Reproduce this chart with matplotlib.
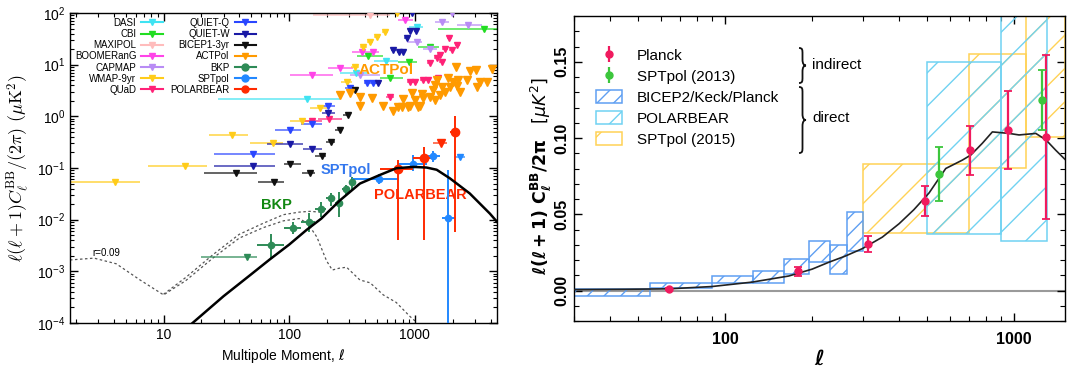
import numpy as np
import matplotlib
matplotlib.use("Agg")
import matplotlib.pyplot as plt
from matplotlib.lines import Line2D
from matplotlib.patches import Patch, Rectangle, PathPatch
from matplotlib.path import Path
from matplotlib.ticker import LogLocator, NullFormatter, MultipleLocator

plt.rcParams['font.family'] = ['Liberation Sans', 'DejaVu Sans']
plt.rcParams['hatch.linewidth'] = 1.0

W, H = 1067, 371

# ------------------------------------------------------------------ left panel data
lens_ell = [17, 30, 49, 70, 100, 137, 180, 253, 365, 524, 712, 970, 1240, 1490, 1900, 2730, 3950, 4500]
lens_dl = [1.0e-4, 3.3e-4, 8.5e-4, 1.7e-3, 3.3e-3, 6.3e-3, 1.05e-2, 2.36e-2, 5.0e-2, 7.3e-2, 9.9e-2,
           1.05e-1, 1.02e-1, 9.25e-2, 6.3e-2, 3.22e-2, 1.31e-2, 9.1e-3]

tens_ell = [1.8, 2.8, 4.2, 6.5, 10, 15, 25, 40, 62, 90, 120, 140, 166, 198, 220, 250, 286, 365, 440, 560, 710, 910, 1000]
tens_dl = [1.66e-3, 1.8e-3, 1.4e-3, 6.8e-4, 3.5e-4, 6.6e-4, 1.85e-3, 4.4e-3, 7.0e-3, 9.5e-3, 1.05e-2, 8.5e-3,
           4.6e-3, 1.6e-3, 1.06e-3, 1.15e-3, 1.2e-3, 6.8e-4, 6.0e-4, 3.5e-4, 2.5e-4, 1.35e-4, 1.1e-4]

tot_ell = [10, 15, 25, 40, 62, 90, 120, 146, 175]
tot_dl = [3.6e-4, 7.6e-4, 2.15e-3, 5.2e-3, 8.5e-3, 1.25e-2, 1.4e-2, 1.45e-2, 1.4e-2]

# upper limits: centre, value, bin low, bin high
dasi_ell = [138, 340, 590, 1030]
dasi_val = [2.17, 7.0, 11.8, 53]
dasi_lo = [27, 253, 470, 900]
dasi_hi = [253, 412, 740, 1150]

cbi_ell = [425, 632, 902, 1315, 3530]
cbi_val = [14.7, 5.4, 11.4, 22.3, 50]
cbi_lo = [344, 527, 734, 1055, 1523]
cbi_hi = [556, 807, 1030, 1560, 5000]

maxipol_ell = [438]
maxipol_val = [91]
maxipol_lo = [155]
maxipol_hi = [632]

boom_ell = [151, 253, 377, 466, 832]
boom_val = [6.2, 8.5, 17.8, 17.8, 73]
boom_lo = [101, 204, 313, 414, 731]
boom_hi = [222, 320, 414, 520, 964]

capmap_ell = [365, 1030, 1316, 1630, 1960, 2655]
capmap_val = [6.2, 27.9, 20, 68, 98, 58.6]
capmap_lo = [304, 863, 1150, 1434, 1800, 2170]
capmap_hi = [527, 1145, 1500, 1860, 2150, 3420]

wmap_ell = [4.1, 14.8, 35.3, 74.6, 126, 176, 286, 333, 388, 439, 495, 577, 714]
wmap_val = [0.054, 0.11, 0.435, 0.30, 0.82, 1.43, 4.68, 9.1, 22.3, 27.9, 34.7, 43.5, 99]
wmap_lo = [1.8, 7.5, 23, 49, 101, 146, 260, 310, 365, 415, 470, 545, 690]
wmap_hi = [6.5, 22, 47, 89, 154, 203, 315, 360, 415, 465, 525, 610, 745]

quad_ell = [151, 208, 633, 913, 1000, 1164, 1270, 1530, 1316, 1488, 1630, 1581, 1734, 1960, 1876, 2170]
quad_val = [0.80, 0.88, 2.4, 4.68, 4.68, 5.05, 5.05, 5.45, 10.6, 13.3, 11.4, 15.4, 19.8, 19.2, 32.4, 24]
quad_lo = [125, 170, 590, 860, 950, 1100, 1210, 1450, 1250, 1420, 1560, 1500, 1650, 1870, 1790, 2070]
quad_hi = [181, 261, 680, 960, 1050, 1220, 1330, 1610, 1380, 1560, 1700, 1660, 1820, 2050, 1960, 2270]

quietq_ell = [51, 101, 151, 204, 304, 413, 466]
quietq_val = [0.187, 0.544, 0.71, 1.58, 3.49, 4.35, 4.45]
quietq_lo = [25, 77, 125, 181, 280, 390, 440]
quietq_hi = [77, 125, 181, 230, 330, 440, 490]

quietw_ell = [51, 101, 151, 204, 511, 672, 746, 807, 859, 913, 1016, 950]
quietw_val = [0.109, 0.29, 0.23, 1.15, 4.35, 19.2, 17.8, 17.8, 32.4, 45.6, 45.6, 99]
quietw_lo = [25, 66, 129, 181, 485, 640, 715, 775, 825, 880, 980, 915]
quietw_hi = [77, 129, 181, 230, 540, 705, 780, 840, 895, 950, 1055, 990]

bicep_ell = [38, 75, 101, 146, 181, 215, 253, 295, 333]
bicep_val = [0.081, 0.054, 0.118, 0.079, 0.17, 0.32, 0.55, 1.06, 3.2]
bicep_lo = [21, 56, 91, 126, 161, 196, 231, 266, 301]
bicep_hi = [55, 90, 125, 160, 195, 230, 265, 300, 335]

act_ell = [253, 304, 365, 365, 453, 560, 672, 783, 913, 1062, 736, 885, 1096, 807, 1000, 1164, 1442, 942,
           1130, 1316, 1581, 1400, 1734, 2280, 1442, 1630, 1898, 2150, 3100, 1488, 1840, 2020, 2210, 2576,
           3288, 3716, 2120, 2738, 3055, 4074]
act_val = [2.59, 2.79, 2.4, 1.58, 2.23, 1.58, 1.28, 1.50, 1.58, 1.50, 1.54, 1.54, 1.58, 2.14, 2.07, 2.23,
           2.07, 2.79, 2.7, 2.4, 2.59, 3.23, 3.0, 3.0, 4.04, 3.75, 3.65, 3.87, 3.65, 5.05, 5.45, 4.68, 5.05,
           5.05, 4.68, 4.68, 9.14, 7.64, 7.88, 8.1]

bkp_ul_ell = [46]
bkp_ul_val = [0.0019]
bkp_ul_lo = [20]
bkp_ul_hi = [55]
bkp_ell = [72, 108, 143, 178, 213, 248, 283, 318]
bkp_val = [0.0032, 0.0070, 0.0091, 0.0158, 0.0259, 0.0214, 0.0387, 0.054]
bkp_ylo = [0.0017, 0.0052, 0.0058, 0.0115, 0.0181, 0.0115, 0.030, 0.0373]
bkp_yhi = [0.0052, 0.0091, 0.0134, 0.0215, 0.0324, 0.0348, 0.0467, 0.0675]
bkp_lo = [55, 90, 125, 160, 195, 230, 265, 300]
bkp_hi = [90, 125, 160, 195, 230, 265, 300, 335]

spt_ell = [520, 959, 1400, 1840]
spt_val = [0.061, 0.120, 0.170, 0.0106]
spt_ylo = [0.050, 0.0857, 0.132, 1e-6]
spt_yhi = [0.075, 0.178, 0.21, 0.092]
spt_lo = [313, 736, 1238, 1630]
spt_hi = [736, 1238, 1581, 2080]
spt_ul_ell = [2280]
spt_ul_val = [0.161]
spt_ul_lo = [2080]
spt_ul_hi = [2500]

pb_ell = [736, 1178, 2080]
pb_val = [0.094, 0.154, 0.505]
pb_ylo = [0.004, 0.004, 0.0058]
pb_yhi = [0.146, 0.258, 1.0]
pb_lo = [525, 970, 1898]
pb_hi = [970, 1393, 2280]
pb_ul_ell = [1600]
pb_ul_val = [0.309]
pb_ul_lo = [1393]
pb_ul_hi = [1786]

legend_names = ['DASI', 'CBI', 'MAXIPOL', 'BOOMERanG', 'CAPMAP', 'WMAP-9yr', 'QUaD',
                'QUIET-Q', 'QUIET-W', 'BICEP1-3yr', 'ACTPol', 'BKP', 'SPTpol', 'POLARBEAR']

# ------------------------------------------------------------------ right panel data
th_ell = [30, 45, 64, 90, 124, 166, 200, 229, 260, 298, 350, 400, 450, 508, 580, 662, 708, 776, 841,
          962, 1040, 1189, 1290, 1393, 1500]
th_dl = [0.0006, 0.0008, 0.0011, 0.0026, 0.0055, 0.0095, 0.0140, 0.0186, 0.0225, 0.0274, 0.0350, 0.0438,
         0.0530, 0.0640, 0.0800, 0.0855, 0.0888, 0.0965, 0.1040, 0.1030, 0.1020, 0.1030, 0.0987, 0.0920,
         0.0860]

planck_ell = [64, 179, 313, 492, 705, 955, 1294]
planck_dl = [0.0011, 0.0127, 0.0307, 0.0585, 0.092, 0.105, 0.1007]
planck_err = [0.0005, 0.0029, 0.0053, 0.0099, 0.0161, 0.0255, 0.054]

spt13_ell = [550, 1247]
spt13_dl = [0.0763, 0.125]
spt13_err = [0.0175, 0.0195]

bk_box_lo = [20, 55, 90, 125, 160, 195, 230, 265]
bk_box_hi = [55, 90, 125, 160, 195, 230, 265, 300]
bk_box_ylo = [-0.0033, 0.0018, 0.0050, 0.0050, 0.0105, 0.0186, 0.0110, 0.0257]
bk_box_yhi = [0.0011, 0.0048, 0.0092, 0.0127, 0.0206, 0.0325, 0.0296, 0.0516]

pb_box_lo = [500, 900]
pb_box_hi = [900, 1300]
pb_box_ylo = [0.0373, 0.0322]
pb_box_yhi = [0.1498, 0.25]

sp_box_lo = [300, 700, 1100]
sp_box_hi = [700, 1100, 1500]
sp_box_ylo = [0.0379, 0.0805, 0.1009]
sp_box_yhi = [0.0829, 0.155, 0.25]

# ------------------------------------------------------------------ colours
C = {
    'DASI': '#3fe3f2', 'CBI': '#22dd22', 'MAXIPOL': '#ffbcbc', 'BOOMERanG': '#ff44e8',
    'CAPMAP': '#b98cf5', 'WMAP-9yr': '#ffcc1a', 'QUaD': '#ff2277', 'QUIET-Q': '#2a46ff',
    'QUIET-W': '#1a1aa5', 'BICEP1-3yr': '#111111', 'ACTPol': '#ff9a00', 'BKP': '#2e8b57',
    'SPTpol': '#2288ff', 'POLARBEAR': '#ff2a00'}

fig = plt.figure(figsize=(W / 100, H / 100), dpi=100)

# ================================================================== LEFT
axL = fig.add_axes([70 / W, 1 - 323 / H, 427 / W, 310 / H])
axL.set_xscale('log')
axL.set_yscale('log')
axL.set_xlim(1.8, 4500)
axL.set_ylim(1e-4, 1e2)


def upper(ax, ell, val, lo, hi, col, ms=5.0):
    if lo is not None:
        ax.hlines(val, lo, hi, color=col, lw=1.3, alpha=0.7, zorder=2)
    ax.plot(ell, val, linestyle='none', marker='v', color=col, ms=ms, zorder=3)


def detect(ax, ell, val, ylo, yhi, lo, hi, col, ms):
    e = np.asarray(ell, float)
    v = np.asarray(val, float)
    xerr = [e - np.asarray(lo), np.asarray(hi) - e]
    yerr = [v - np.asarray(ylo), np.asarray(yhi) - v]
    ax.errorbar(e, v, xerr=xerr, yerr=yerr, fmt='o', color=col, ms=ms, elinewidth=1.4,
                capsize=0, zorder=4)


axL.plot(tens_ell, tens_dl, color='#555555', lw=0.9, ls=(0, (2, 2)), zorder=1)
axL.plot(tot_ell, tot_dl, color='#555555', lw=0.9, ls=(0, (2, 2)), zorder=1)
axL.plot(lens_ell, lens_dl, color='black', lw=1.8, zorder=5)

upper(axL, maxipol_ell, maxipol_val, maxipol_lo, maxipol_hi, C['MAXIPOL'])
upper(axL, dasi_ell, dasi_val, dasi_lo, dasi_hi, C['DASI'])
upper(axL, cbi_ell, cbi_val, cbi_lo, cbi_hi, C['CBI'])
upper(axL, boom_ell, boom_val, boom_lo, boom_hi, C['BOOMERanG'])
upper(axL, capmap_ell, capmap_val, capmap_lo, capmap_hi, C['CAPMAP'])
upper(axL, wmap_ell, wmap_val, wmap_lo, wmap_hi, C['WMAP-9yr'])
upper(axL, quad_ell, quad_val, quad_lo, quad_hi, C['QUaD'])
upper(axL, quietq_ell, quietq_val, quietq_lo, quietq_hi, C['QUIET-Q'])
upper(axL, quietw_ell, quietw_val, quietw_lo, quietw_hi, C['QUIET-W'])
upper(axL, bicep_ell, bicep_val, bicep_lo, bicep_hi, C['BICEP1-3yr'])
upper(axL, act_ell, act_val, None, None, C['ACTPol'], ms=6)
upper(axL, bkp_ul_ell, bkp_ul_val, bkp_ul_lo, bkp_ul_hi, C['BKP'])
upper(axL, spt_ul_ell, spt_ul_val, spt_ul_lo, spt_ul_hi, C['SPTpol'])
upper(axL, pb_ul_ell, pb_ul_val, pb_ul_lo, pb_ul_hi, C['POLARBEAR'], ms=6)
detect(axL, bkp_ell, bkp_val, bkp_ylo, bkp_yhi, bkp_lo, bkp_hi, C['BKP'], 4.5)
detect(axL, spt_ell, spt_val, spt_ylo, spt_yhi, spt_lo, spt_hi, C['SPTpol'], 4.5)
detect(axL, pb_ell, pb_val, pb_ylo, pb_yhi, pb_lo, pb_hi, C['POLARBEAR'], 6)

axL.text(2.7, 0.0023, 'r=0.09', fontsize=7, ha='left', va='center')
axL.text(596, 7.9, 'ACTPol', color=C['ACTPol'], fontsize=11, fontweight='bold', ha='center', va='center',
         zorder=6)
axL.text(280, 0.092, 'SPTpol', color='#3377ee', fontsize=10.5, fontweight='bold', ha='center', va='center',
         zorder=6)
axL.text(79, 0.0192, 'BKP', color='#118811', fontsize=10.5, fontweight='bold', ha='center', va='center')
axL.text(1096, 0.030, 'POLARBEAR', color=C['POLARBEAR'], fontsize=10.5, fontweight='bold',
         ha='center', va='center')

handles = []
for nm in legend_names:
    mk = 'o' if nm in ('BKP', 'SPTpol', 'POLARBEAR') else 'v'
    handles.append(Line2D([0], [0], color=C[nm], marker=mk, ms=5, lw=1.5))
axL.legend(handles, legend_names, ncol=2, markerfirst=False, fontsize=7, frameon=False,
           loc='upper left', bbox_to_anchor=(0.0, 1.0), borderaxespad=0.3, borderpad=0.2,
           handlelength=2.2, handletextpad=0.5, columnspacing=0.8, labelspacing=0.12)

axL.set_xticks([10, 100, 1000])
axL.set_xticklabels(['10', '100', '1000'])
axL.xaxis.set_minor_locator(LogLocator(base=10, subs=np.arange(2, 10)))
axL.xaxis.set_minor_formatter(NullFormatter())
axL.set_yticks([1e-4, 1e-3, 1e-2, 1e-1, 1e0, 1e1, 1e2])
axL.yaxis.set_minor_locator(LogLocator(base=10, subs=np.arange(2, 10), numticks=20))
axL.yaxis.set_minor_formatter(NullFormatter())
axL.tick_params(which='both', direction='in', top=True, right=True, labelsize=10)
axL.tick_params(which='major', length=6, width=1.0)
axL.tick_params(which='minor', length=3, width=0.8)
for s in axL.spines.values():
    s.set_linewidth(1.0)
axL.set_xlabel(r'Multipole Moment, $\ell$', fontsize=10, labelpad=4)
axL.set_ylabel(r'$\ell(\ell+1)C_\ell^{\rm BB}/(2\pi)\ (\mu{\rm K}^2)$', fontsize=13,
               math_fontfamily='cm', labelpad=4)

# ================================================================== RIGHT
axR = fig.add_axes([574 / W, 1 - 321 / H, 491 / W, 305 / H])
axR.set_xscale('log')
axR.set_xlim(30, 1500)
axR.set_ylim(-0.02, 0.18)


def boxes(ax, lo, hi, ylo, yhi, col, hatch):
    for a, b, c, d in zip(lo, hi, ylo, yhi):
        ax.add_patch(Rectangle((a, c), b - a, d - c, fill=False, edgecolor=col, hatch=hatch,
                               lw=1.1, zorder=2))


axR.axhline(0, color='#9a9a9a', lw=1.5, zorder=1)
boxes(axR, sp_box_lo, sp_box_hi, sp_box_ylo, sp_box_yhi, '#ffd256', '/')
boxes(axR, pb_box_lo, pb_box_hi, pb_box_ylo, pb_box_yhi, '#70d2f2', '/')
boxes(axR, bk_box_lo, bk_box_hi, bk_box_ylo, bk_box_yhi, '#5f9ff2', '//')
axR.plot(th_ell, th_dl, color='#222222', lw=1.2, zorder=4)
axR.errorbar(planck_ell, planck_dl, yerr=planck_err, fmt='o', color='#f01a5e', ms=5,
             elinewidth=1.6, capsize=3, capthick=1.3, zorder=6)
axR.errorbar(spt13_ell, spt13_dl, yerr=spt13_err, fmt='o', color='#3cc63c', ms=5,
             elinewidth=1.6, capsize=3, capthick=1.3, zorder=6)

h1 = axR.errorbar([], [], yerr=[], fmt='o', color='#f01a5e', ms=5, elinewidth=1.6, capsize=3)
h2 = axR.errorbar([], [], yerr=[], fmt='o', color='#3cc63c', ms=5, elinewidth=1.6, capsize=3)
h3 = Patch(fill=False, edgecolor='#5f9ff2', hatch='//', lw=1.1)
h4 = Patch(fill=False, edgecolor='#70d2f2', hatch='/', lw=1.1)
h5 = Patch(fill=False, edgecolor='#ffd256', hatch='/', lw=1.1)
fig.legend([h1, h2, h3, h4, h5],
           ['Planck', 'SPTpol (2013)', 'BICEP2/Keck/Planck', 'POLARBEAR', 'SPTpol (2015)'],
           loc='upper left', bbox_to_anchor=(596 / W, 1 - 48 / H), frameon=False, fontsize=11,
           handlelength=1.7, handleheight=1.0, handletextpad=1.0, labelspacing=0.38,
           borderpad=0, borderaxespad=0)


def brace(x, yt, yb, w):
    ym = 0.5 * (yt + yb)
    a = x + 0.5 * w
    r = min(6.0, 0.2 * (yb - yt))
    pts = [(x, yt), (a, yt), (a, yt + 0.3 * r), (a, yt + r),
           (a, ym - r),
           (a, ym - 0.3 * r), (a + 0.2 * w, ym), (x + w, ym),
           (a + 0.2 * w, ym), (a, ym + 0.3 * r), (a, ym + r),
           (a, yb - r),
           (a, yb - 0.3 * r), (a, yb), (x, yb)]
    codes = [Path.MOVETO, Path.CURVE4, Path.CURVE4, Path.CURVE4, Path.LINETO,
             Path.CURVE4, Path.CURVE4, Path.CURVE4, Path.CURVE4, Path.CURVE4, Path.CURVE4,
             Path.LINETO, Path.CURVE4, Path.CURVE4, Path.CURVE4]
    verts = [(px / W, 1 - py / H) for px, py in pts]
    fig.add_artist(PathPatch(Path(verts, codes), fill=False, lw=1.3, edgecolor='#111111',
                             transform=fig.transFigure))


brace(799, 48, 83, 7)
brace(799, 87, 153, 7)
fig.text(812 / W, 1 - 65 / H, 'indirect', fontsize=11, ha='left', va='center')
fig.text(812 / W, 1 - 118 / H, 'direct', fontsize=11, ha='left', va='center')

axR.set_xticks([100, 1000])
axR.set_xticklabels(['100', '1000'], fontweight='bold')
axR.xaxis.set_minor_locator(LogLocator(base=10, subs=np.arange(2, 10)))
axR.xaxis.set_minor_formatter(NullFormatter())
axR.set_yticks([0.0, 0.05, 0.10, 0.15])
axR.set_yticklabels(['0.00', '0.05', '0.10', '0.15'], rotation=90, va='center', fontweight='bold')
axR.yaxis.set_minor_locator(MultipleLocator(0.01))
axR.tick_params(which='both', direction='in', top=True, right=True, labelsize=11.5)
axR.tick_params(which='major', length=6, width=1.0)
axR.tick_params(which='minor', length=3.5, width=0.8)
axR.tick_params(axis='x', pad=8)
for s in axR.spines.values():
    s.set_linewidth(1.0)
axR.set_xlabel(r'$\mathbf{\ell}$', fontsize=15, labelpad=2, math_fontfamily='dejavusans')
axR.set_ylabel(r'$\mathbf{\ell(\ell+1)\ C_\ell^{BB}/2\pi}\ \ \ [\mu K^2]$', fontsize=12.5,
               math_fontfamily='dejavusans')
axR.yaxis.set_label_coords(-0.043, 0.475)

fig.savefig('out.png', dpi=100)
